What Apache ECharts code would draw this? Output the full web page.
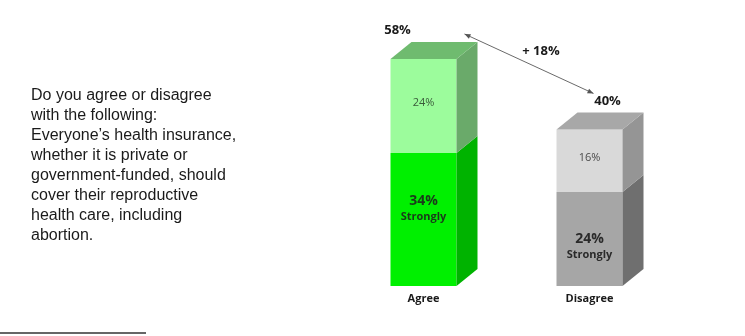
<!DOCTYPE html>
<html>
<head>
<meta charset="utf-8">
<script src="https://cdn.jsdelivr.net/npm/echarts@6/dist/echarts.min.js"></script>
<style>html,body{margin:0;padding:0;background:#fff}#c{width:745px;height:336px}</style>
</head>
<body>
<div id="c"></div>
<script>
// ---- data ----
const categories = ['Agree', 'Disagree'];
const strongly = [34, 24];
const somewhat = [24, 16];
const questionText = 'Do you agree or disagree\nwith the following:\nEveryone\u2019s health insurance,\nwhether it is private or\ngovernment-funded, should\ncover their reproductive\nhealth care, including\nabortion.';

// ---- derived ----
const totals = strongly.map((v, i) => v + somewhat[i]);
const diff = totals[0] - totals[1];

// ---- styling ----
const FONT = '"Open Sans", "Liberation Sans", sans-serif';
const W = 66, DX = 21, DY = 17;
const palette = [
  { sFront: '#00f000', sSide: '#00b300', wFront: '#9cfc9c', wSide: '#6aaa6a', top: '#6fbb6f', sText: '#1a3a1a', wText: '#3a5a3a' },
  { sFront: '#a6a6a6', sSide: '#6f6f6f', wFront: '#d9d9d9', wSide: '#959595', top: '#a8a8a8', sText: '#2a2a2a', wText: '#4a4a4a' }
];
const strongLabelDy = [-11, 7];
const totalLabelDx = [-26, 18];
const totalLabelDy = [-29, -28];

function segRender(kind) {
  return function (params, api) {
    const cat = api.value(0);
    const p0 = api.coord([cat, api.value(1)]);
    const p1 = api.coord([cat, api.value(2)]);
    const x0 = p0[0] - W / 2, x1 = p0[0] + W / 2;
    const yb = p0[1], yt = p1[1];
    const c = palette[cat];
    const children = [];
    children.push({ type: 'rect', shape: { x: x0, y: yt, width: W, height: yb - yt },
      style: { fill: kind === 's' ? c.sFront : c.wFront } });
    children.push({ type: 'polygon', shape: { points: [[x1, yb], [x1 + DX, yb - DY], [x1 + DX, yt - DY], [x1, yt]] },
      style: { fill: kind === 's' ? c.sSide : c.wSide } });
    if (kind === 'w') {
      children.push({ type: 'polygon', shape: { points: [[x0, yt], [x0 + DX, yt - DY], [x1 + DX, yt - DY], [x1, yt]] },
        style: { fill: c.top } });
      children.push({ type: 'text', style: { text: (api.value(2) - api.value(1)) + '%', x: p0[0], y: (yb + yt) / 2 - 3,
        align: 'center', verticalAlign: 'middle', font: '11px ' + FONT, fill: c.wText } });
      // total label
      children.push({ type: 'text', style: { text: api.value(2) + '%', x: p0[0] + totalLabelDx[cat], y: yt + totalLabelDy[cat],
        align: 'center', verticalAlign: 'middle', font: 'bold 13px ' + FONT, fill: '#1a1a1a' } });
    } else {
      const v = api.value(2) - api.value(1);
      children.push({ type: 'text', style: { text: '{a|' + v + '%}\n{b|Strongly}', x: p0[0], y: (yb + yt) / 2 + strongLabelDy[cat],
        align: 'center', verticalAlign: 'middle',
        rich: { a: { font: 'bold 14px ' + FONT, fill: c.sText, lineHeight: 17, align: 'center' },
                b: { font: 'bold 11px ' + FONT, fill: c.sText, lineHeight: 14, align: 'center' } } } });
    }
    return { type: 'group', children };
  };
}

function arrowRender(params, api) {
  const a = api.coord([0, totals[0]]);
  const b = api.coord([1, totals[1]]);
  const s = [a[0] + 41, a[1] - 25];
  const e = [b[0] + 4, b[1] - 36];
  const ang = Math.atan2(e[1] - s[1], e[0] - s[0]);
  const L = 6, H = 2.5;
  function head(p, dir) {
    const ux = Math.cos(ang) * dir, uy = Math.sin(ang) * dir;
    return [[p[0], p[1]], [p[0] - ux * L - uy * H, p[1] - uy * L + ux * H], [p[0] - ux * L + uy * H, p[1] - uy * L - ux * H]];
  }
  return { type: 'group', children: [
    { type: 'line', shape: { x1: s[0], y1: s[1], x2: e[0], y2: e[1] }, style: { stroke: '#6a6a6a', lineWidth: 1 } },
    { type: 'polygon', shape: { points: head(s, -1) }, style: { fill: '#555' } },
    { type: 'polygon', shape: { points: head(e, 1) }, style: { fill: '#555' } },
    { type: 'text', style: { text: '+ ' + diff + '%', x: (s[0] + e[0]) / 2 + 12, y: (s[1] + e[1]) / 2 - 12,
      align: 'center', verticalAlign: 'middle', font: 'bold 13px ' + FONT, fill: '#1a1a1a' } }
  ] };
}

const chart = echarts.init(document.getElementById('c'), null, { renderer: 'canvas' });
chart.setOption({
  animation: false,
  backgroundColor: '#fff',
  grid: { left: 340.5, right: 72.5, top: 12, bottom: 50 },
  xAxis: { type: 'category', data: categories, axisLine: { show: false }, axisTick: { show: false },
    axisLabel: { margin: 7, fontFamily: FONT, fontWeight: 'bold', fontSize: 11, color: '#1a1a1a' } },
  yAxis: { type: 'value', min: 0, max: 70, show: false, splitLine: { show: false } },
  graphic: [
    { type: 'text', left: 31, top: 86, style: { text: questionText, font: '16px "Liberation Sans", Arial, sans-serif', lineHeight: 20, fill: '#1a1a1a' } },
    { type: 'line', shape: { x1: 0, y1: 333, x2: 146, y2: 333 }, style: { stroke: '#333', lineWidth: 1.5 } }
  ],
  series: [
    { type: 'custom', renderItem: segRender('s'), data: strongly.map((v, i) => [i, 0, v]) },
    { type: 'custom', renderItem: segRender('w'), data: somewhat.map((v, i) => [i, strongly[i], totals[i]]) },
    { type: 'custom', renderItem: arrowRender, data: [[0, 0, 0]] }
  ]
});
</script>
</body>
</html>
